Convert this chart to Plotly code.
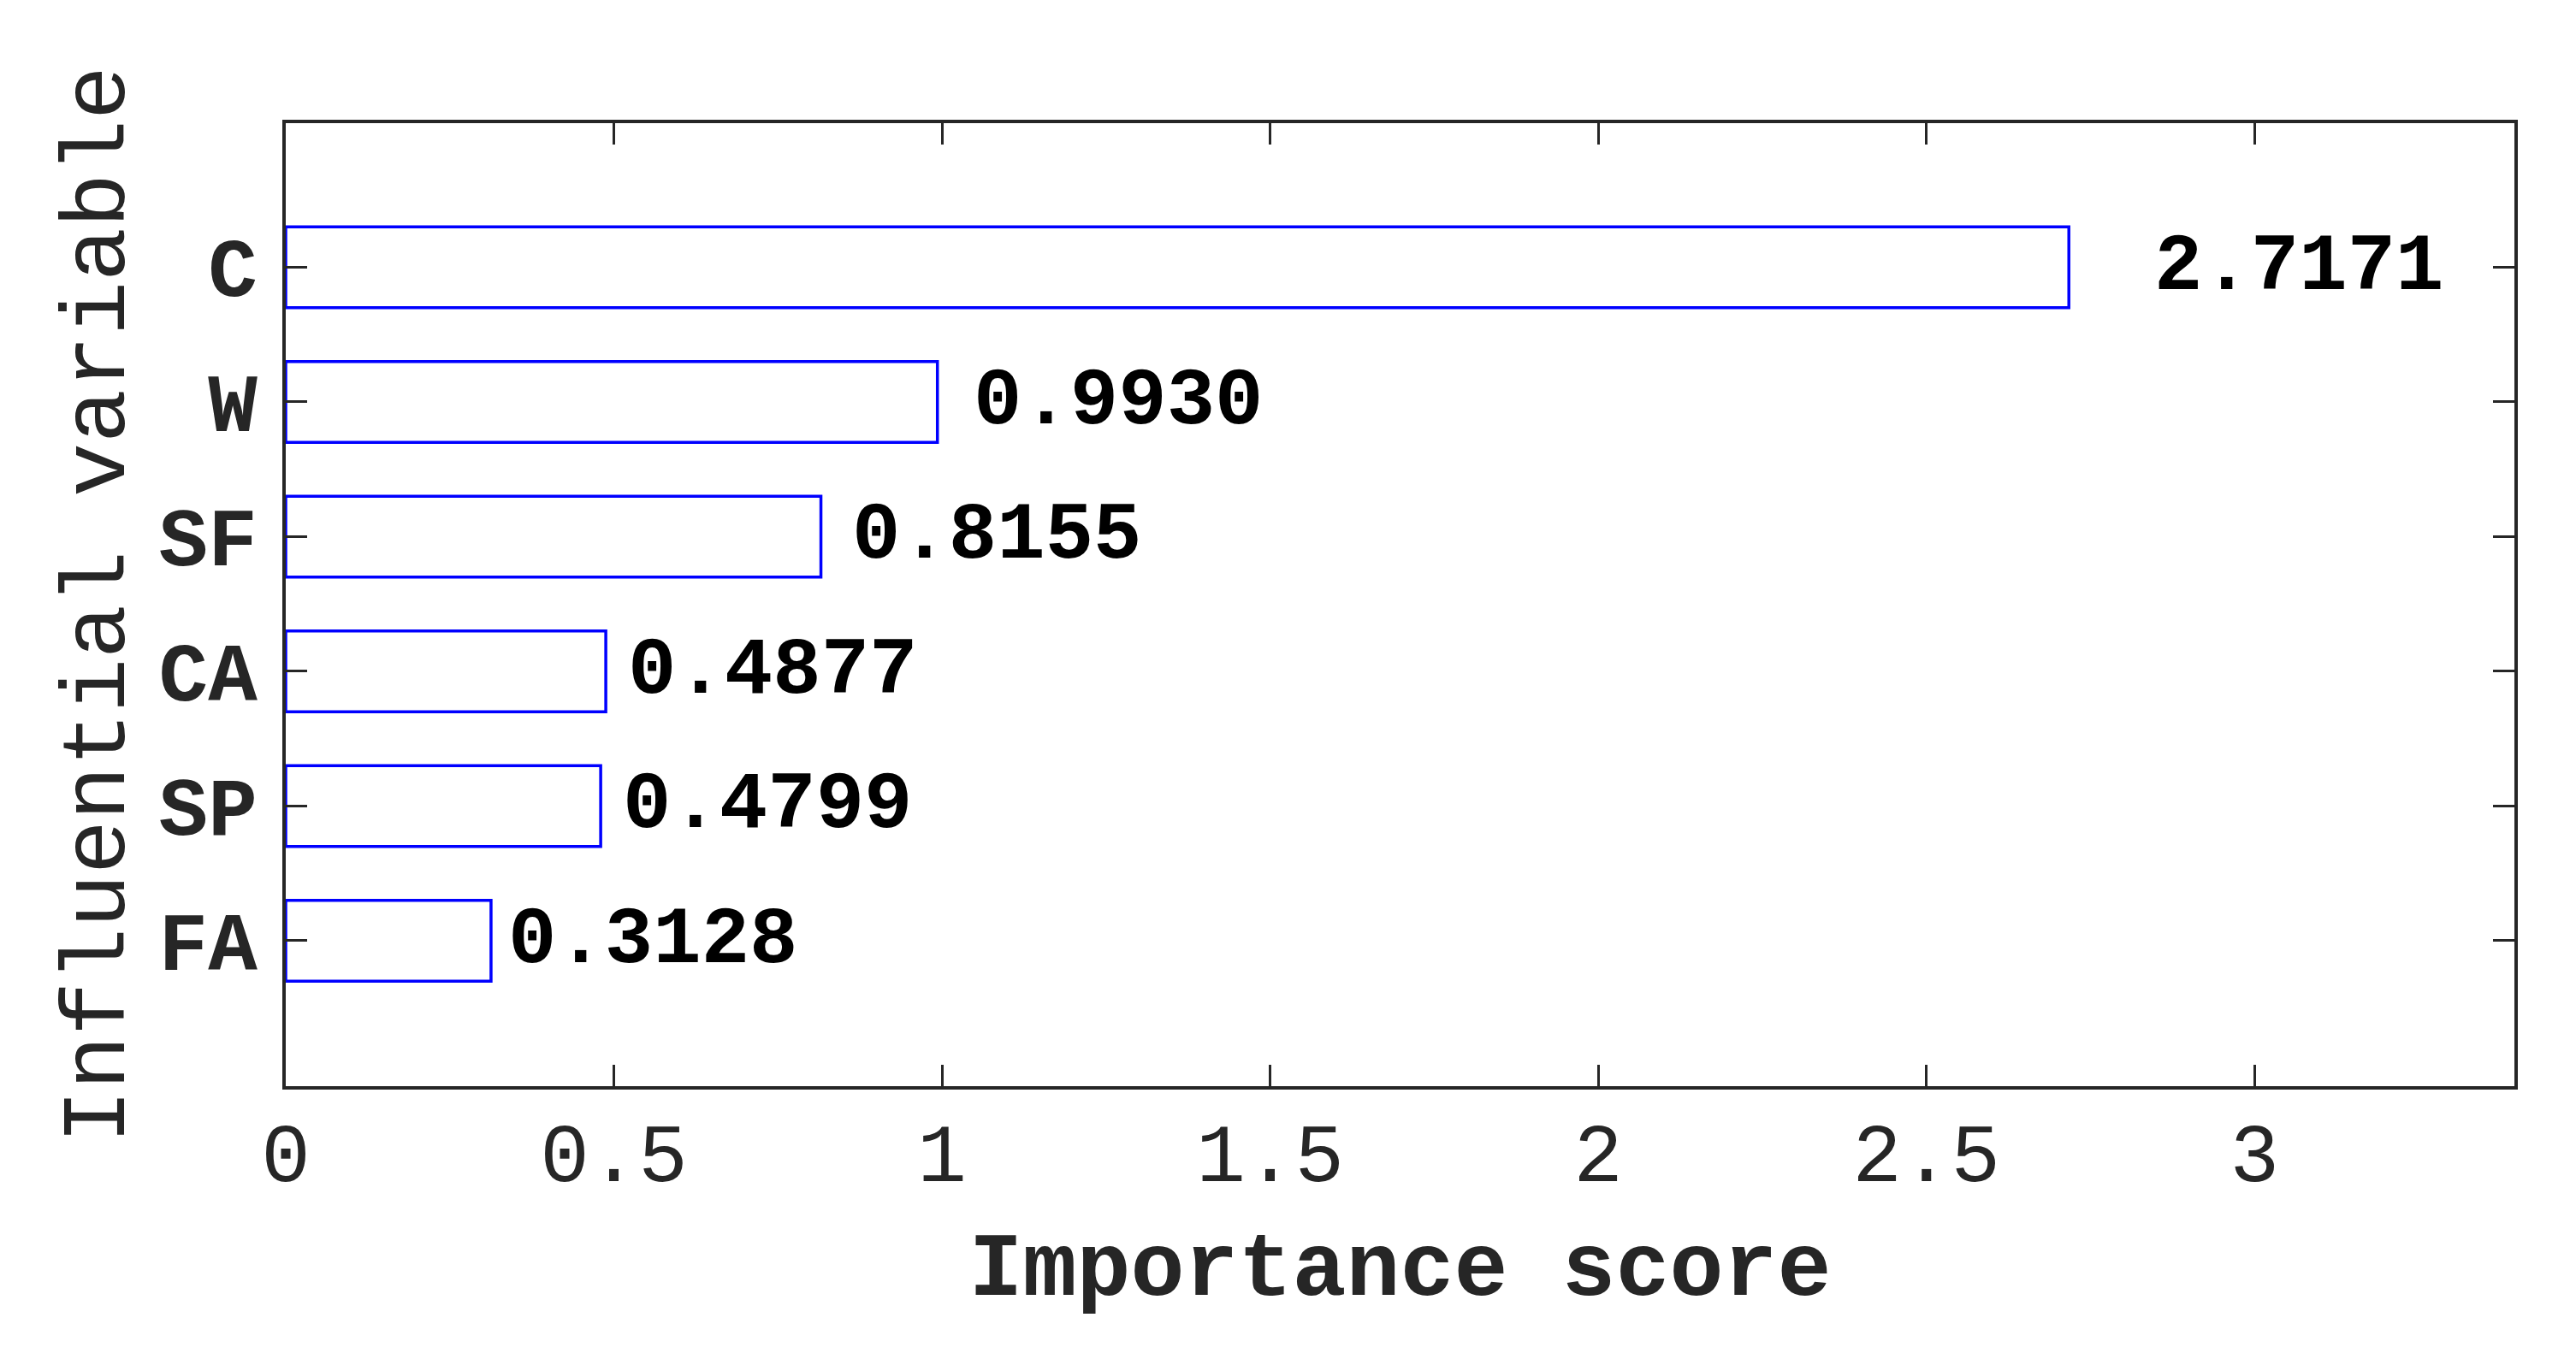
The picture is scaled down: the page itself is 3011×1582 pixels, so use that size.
import plotly.graph_objects as go

# importance scores, top to bottom as shown
variables = ["C", "W", "SF", "CA", "SP", "FA"]
scores = [2.7171, 0.9930, 0.8155, 0.4877, 0.4799, 0.3128]
score_labels = ["2.7171", "0.9930", "0.8155", "0.4877", "0.4799", "0.3128"]
x_ticks = [0, 0.5, 1, 1.5, 2, 2.5, 3]

FONT = "Liberation Mono"
AXIS_COL = "#262626"

fig = go.Figure()
fig.add_trace(go.Bar(
    x=scores, y=variables, orientation="h", width=0.6,
    marker=dict(color="white", line=dict(color="#0000FF", width=3.5)),
    showlegend=False,
))

# value labels just to the right of each bar
for v, lab, s in zip(variables, score_labels, scores):
    fig.add_annotation(x=s + 0.01 + 0.043 * s, y=v, xref="x", yref="y",
                       text=lab, showarrow=False, xanchor="left", yanchor="middle",
                       font=dict(family=FONT, size=94, color="black", weight="bold"))

fig.update_xaxes(range=[0, 3.396], tickvals=x_ticks, ticktext=[f"{t:g}" for t in x_ticks],
                 ticks="inside", ticklen=25, tickwidth=3, tickcolor=AXIS_COL,
                 showline=True, linecolor=AXIS_COL, linewidth=4, mirror="ticks",
                 showgrid=False, zeroline=False, ticklabelstandoff=-8,
                 tickfont=dict(family=FONT, size=96, color=AXIS_COL),
                 title=dict(text="Importance score", standoff=32,
                            font=dict(family=FONT, size=105, color=AXIS_COL, weight="bold")))
fig.update_yaxes(categoryorder="array", categoryarray=variables[::-1], range=[-1.08, 6.07],
                 ticks="inside", ticklen=25, tickwidth=3, tickcolor=AXIS_COL,
                 showline=True, linecolor=AXIS_COL, linewidth=4, mirror="ticks",
                 showgrid=False, zeroline=False, ticklabelstandoff=10,
                 tickfont=dict(family=FONT, size=96, color=AXIS_COL, weight="bold"),
                 title=dict(text="Influential variable", standoff=6,
                            font=dict(family=FONT, size=105, color=AXIS_COL)))
fig.update_layout(width=3011, height=1582, plot_bgcolor="white", paper_bgcolor="white",
                  margin=dict(l=326, r=80, t=136, b=320))
fig.write_html("out.html")
